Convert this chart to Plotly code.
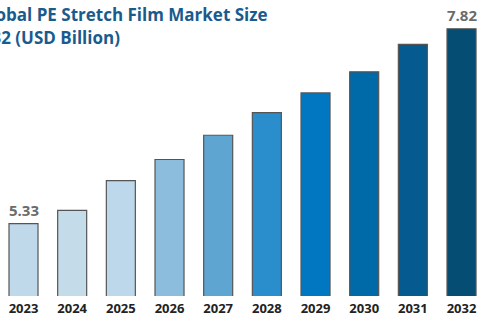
import plotly.graph_objects as go

years = ["2023", "2024", "2025", "2026", "2027", "2028", "2029", "2030", "2031", "2032"]
values = [5.33, 5.50, 5.88, 6.15, 6.46, 6.75, 7.00, 7.27, 7.62, 7.82]
bar_colors = ["#c0d9ea", "#c4dbea", "#bdd8eb", "#8dbddd", "#5ea6d1", "#2a8ecc",
              "#0077c0", "#0069a8", "#055b8f", "#064d74"]
labeled = {"2023": "5.33", "2032": "7.82"}
title_lines = ["Global PE Stretch Film Market Size", "2032 (USD Billion)"]

fig = go.Figure(go.Bar(
    x=years, y=values,
    marker=dict(color=bar_colors, line=dict(color="#555555", width=1.2)),
    width=0.596,
    hoverinfo="skip",
))

for yr, txt in labeled.items():
    fig.add_annotation(
        x=years.index(yr), y=values[years.index(yr)], xref="x", yref="y",
        text=txt, showarrow=False, yanchor="bottom", yshift=2,
        font=dict(family="Open Sans", size=15, color="#6b6b6b", weight="bold"),
    )

for line, xpos, ypos in zip(title_lines, [-0.0506, -0.062], [0.951, 0.872]):
    fig.add_annotation(
        x=xpos, y=ypos, xref="paper", yref="paper", xanchor="left", yanchor="middle",
        text=line, align="left", showarrow=False,
        font=dict(family="Open Sans", size=17, color="#1a5b8e", weight="bold"),
    )

fig.update_layout(
    width=479, height=316,
    margin=dict(l=0, r=0, t=0, b=20, autoexpand=False),
    paper_bgcolor="white", plot_bgcolor="white",
    showlegend=False,
    xaxis=dict(type="category", range=[-0.483, 9.359], showgrid=False, showline=False,
               zeroline=False, ticks="", ticklabelstandoff=3,
               tickfont=dict(family="Open Sans", size=13, color="#222222", weight="bold")),
    yaxis=dict(range=[4.407, 8.187], visible=False, showgrid=False, zeroline=False),
)

fig.write_html("out.html", config={"displayModeBar": False},
               post_script="document.body.style.margin='0px';")
